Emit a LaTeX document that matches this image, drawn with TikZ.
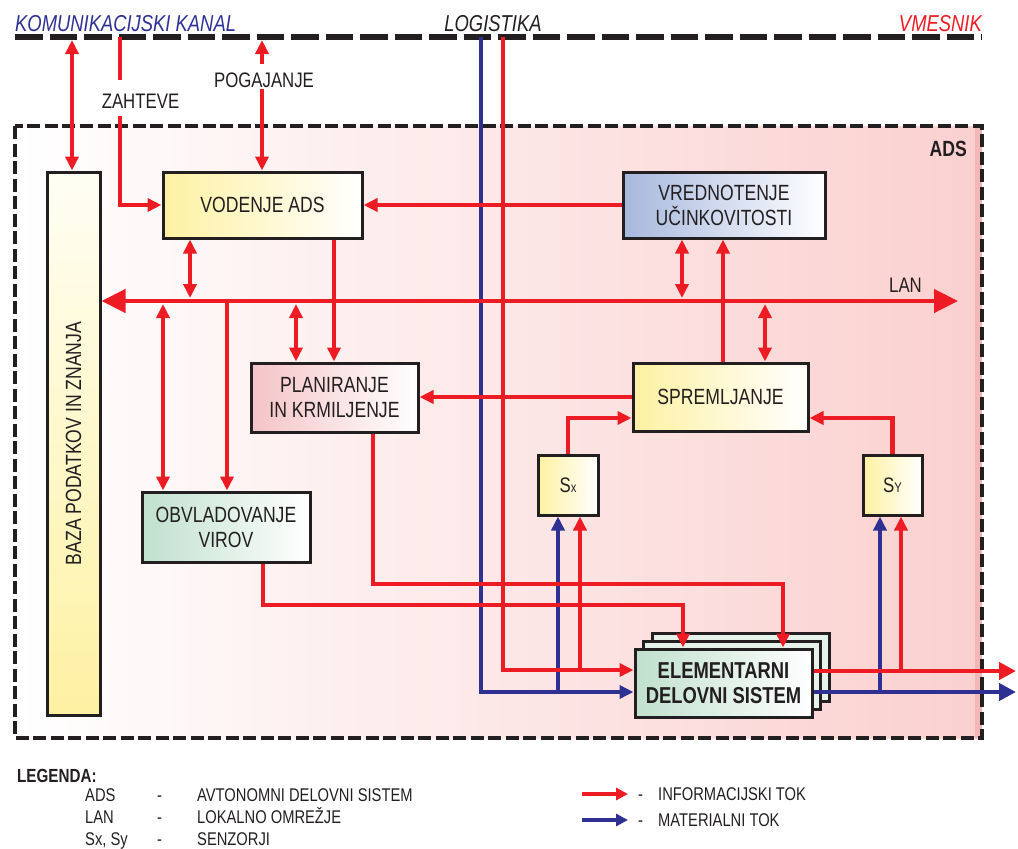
\documentclass[tikz,border=0pt]{standalone}
\usepackage{fontspec}
\setmainfont{Liberation Sans}[FakeStretch=0.8]
\usetikzlibrary{arrows.meta}
\definecolor{rd}{HTML}{ED1C24}
\definecolor{bl}{HTML}{2E3192}
\definecolor{ink}{HTML}{231F20}
\definecolor{yel}{HTML}{FEF1A2}
\definecolor{cream}{HTML}{FFFEF4}
\definecolor{blu}{HTML}{A7B8DE}
\definecolor{pnk}{HTML}{F4C4C7}
\definecolor{grn}{HTML}{C0E0CD}
\definecolor{grnl}{HTML}{E4F2E9}
\definecolor{adsp}{HTML}{FAD0CF}
\definecolor{adsd}{HTML}{F2B8B8}
\begin{document}
\begin{tikzpicture}[x=1pt,y=-1pt,
  >={Triangle[length=14pt,width=13pt]},
  box/.style={draw=ink,line width=3pt,text=ink,align=center,inner sep=0pt,
    font=\fontsize{22}{25}\selectfont},
  rl/.style={draw=rd,line width=4.5pt},
  bll/.style={draw=bl,line width=4.5pt},
  lbl/.style={text=ink,inner sep=0pt,font=\fontsize{18.4}{21}\selectfont},
  toplbl/.style={inner sep=0pt,font=\itshape\fontsize{23}{26}\selectfont},
  bigtip/.style={arrows={Triangle[length=24pt,width=23pt]-Triangle[length=24pt,width=23pt]}},
  outtip/.style={arrows={-Triangle[length=17pt,width=17pt]}},
  legtip/.style={arrows={-Triangle[length=12pt,width=12pt]},line width=4pt}
]
\useasboundingbox (0,0) rectangle (1018,849);

% ADS frame
\shade[left color=white,right color=adsp] (15,126) rectangle (982,738);
\fill[adsd] (975,126) rectangle (982,738);
\draw[ink,line width=3.5pt,dash pattern=on 13pt off 4.5pt] (15,126) rectangle (982,738);
\node[anchor=base east,text=ink,inner sep=0pt,font=\bfseries\fontsize{22}{25}\selectfont] (adsl) at (967,156) {ADS};

% top line
\coordinate (tl) at (15,37);
\coordinate (tr) at (982,37);
\draw[ink,line width=6pt,dash pattern=on 27.5pt off 7pt] (tl) -- (tr);
\node[toplbl,anchor=base west,text=bl] (kk) at (15,31) {KOMUNIKACIJSKI KANAL};
\node[toplbl,anchor=base,text=ink] (lg) at (493,31) {LOGISTIKA};
\node[toplbl,anchor=base east,text=rd] (vm) at (982,31) {VMESNIK};

% nodes
\node[box,minimum width=53pt,minimum height=543pt,top color=cream,bottom color=yel] (baza) at (73.5,443.5) {\rotatebox{90}{BAZA PODATKOV IN ZNANJA}};
\node[box,minimum width=199pt,minimum height=66pt,left color=yel,right color=white] (vod) at (262.5,205) {VODENJE ADS};
\node[box,minimum width=202pt,minimum height=66pt,left color=blu,right color=white] (vred) at (724,205) {VREDNOTENJE\\UČINKOVITOSTI};
\node[box,minimum width=167pt,minimum height=69pt,left color=pnk,right color=white] (plan) at (334.5,397.5) {PLANIRANJE\\IN KRMILJENJE};
\node[box,minimum width=175pt,minimum height=68pt,left color=yel,right color=white] (spr) at (720.5,397) {SPREMLJANJE};
\node[box,minimum width=168pt,minimum height=70pt,left color=grn,right color=white] (obv) at (226,527) {OBVLADOVANJE\\VIROV};
\node[box,minimum width=60pt,minimum height=60pt,left color=yel,right color=white,font=\fontsize{21}{24}\selectfont] (sx) at (568,485) {S{\fontsize{14}{14}\selectfont x}};
\node[box,minimum width=59pt,minimum height=60pt,left color=yel,right color=white,font=\fontsize{21}{24}\selectfont] (sy) at (892.5,485) {S{\fontsize{14}{14}\selectfont Y}};
\node[box,minimum width=177pt,minimum height=68pt,fill=grnl] (eds3) at (741,667) {};
\node[box,minimum width=177pt,minimum height=68pt,fill=grnl] (eds2) at (732,675) {};
\node[box,minimum width=177pt,minimum height=68pt,left color=grn,right color=white,font=\bfseries\fontsize{23}{25}\selectfont] (eds) at (723.5,683) {ELEMENTARNI\\DELOVNI SISTEM};

% labels on top connectors
\node[lbl,font=\fontsize{21}{24}\selectfont,anchor=base] (zah) at (140.5,108) {ZAHTEVE};
\node[lbl,font=\fontsize{21}{24}\selectfont,anchor=base] (pog) at (264,87) {POGAJANJE};
\coordinate (lanr) at (958,301);
\node[lbl,font=\fontsize{21}{24}\selectfont,anchor=base] (lanl) at (905.5,292) {LAN};

% material flow (blue), drawn beneath the red lines
\draw[bll,->] (481,37) -- (481,692) -- (eds.west |- 0,692);
\draw[bll,->] (558,692) -- (558,0 |- sx.south);
\draw[bll,outtip] (eds.east |- 0,692) -- (1016,692);
\draw[bll,->] (880,692) -- (880,0 |- sy.south);

% information flow (red)
\draw[rl,<->] (72,40) -- (72,0 |- baza.north);
\draw[rl,->] (120,37) -- (120,80) (120,116) -- (120,205) -- (vod.west);
\draw[rl,<-] (262,40) -- (262,64);
\draw[rl,->] (262,89) -- (262,0 |- vod.north);
\draw[rl,->] (vred.west) -- (vod.east);
\draw[rl,bigtip] (baza.east |- lanr) -- (lanr);
\draw[rl,<->] (190,0 |- vod.south) -- (190,298);
\draw[rl,->] (334,0 |- vod.south) -- (334,0 |- plan.north);
\draw[rl,<->] (296,304) -- (296,0 |- plan.north);
\draw[rl,<->] (163,304) -- (163,0 |- obv.north);
\draw[rl,->] (227,301) -- (227,0 |- obv.north);
\draw[rl,<->] (682,0 |- vred.south) -- (682,298);
\draw[rl,->] (723,0 |- spr.north) -- (723,0 |- vred.south);
\draw[rl,<->] (765,304) -- (765,0 |- spr.north);
\draw[rl,->] (spr.west) -- (plan.east |- spr.west);
\draw[rl,->] (sx.north) -- (sx.north |- 0,418) -- (spr.west |- 0,418);
\draw[rl,->] (sy.north) -- (sy.north |- 0,418) -- (spr.east |- 0,418);
\draw[rl,->] (373,0 |- plan.south) -- (373,584) -- (783,584) -- (783,0 |- eds.north);
\draw[rl,->] (263,0 |- obv.south) -- (263,605) -- (683,605) -- (683,0 |- eds.north);
\draw[rl,->] (503,37) -- (503,670) -- (eds.west |- 0,670);
\draw[rl,->] (580,670) -- (580,0 |- sx.south);
\draw[rl,outtip] (eds.east |- 0,671) -- (1016,671);
\draw[rl,->] (901,671) -- (901,0 |- sy.south);

% legend
\node[lbl,anchor=base west,font=\bfseries\fontsize{19}{21}\selectfont] (leg) at (17,782) {LEGENDA:};
\node[lbl,anchor=base west] (l1a) at (85,801) {ADS};
\node[lbl,anchor=base west] (l1b) at (157,801) {-};
\node[lbl,anchor=base west] (l1c) at (197,801) {AVTONOMNI DELOVNI SISTEM};
\node[lbl,anchor=base west] (l2a) at (85,823) {LAN};
\node[lbl,anchor=base west] (l2b) at (157,823) {-};
\node[lbl,anchor=base west] (l2c) at (197,823) {LOKALNO OMREŽJE};
\node[lbl,anchor=base west] (l3a) at (85,845) {Sx, Sy};
\node[lbl,anchor=base west] (l3b) at (157,845) {-};
\node[lbl,anchor=base west] (l3c) at (197,845) {SENZORJI};
\coordinate (ia) at (582,794);
\coordinate (ib) at (628,794);
\coordinate (ma) at (582,820);
\coordinate (mb) at (628,820);
\draw[draw=rd,legtip] (ia) -- (ib);
\draw[draw=bl,legtip] (ma) -- (mb);
\node[lbl,anchor=base west] (r1b) at (638,800) {-};
\node[lbl,anchor=base west] (r1c) at (658,800) {INFORMACIJSKI TOK};
\node[lbl,anchor=base west] (r2b) at (638,826) {-};
\node[lbl,anchor=base west] (r2c) at (658,826) {MATERIALNI TOK};
\end{tikzpicture}
\end{document}
